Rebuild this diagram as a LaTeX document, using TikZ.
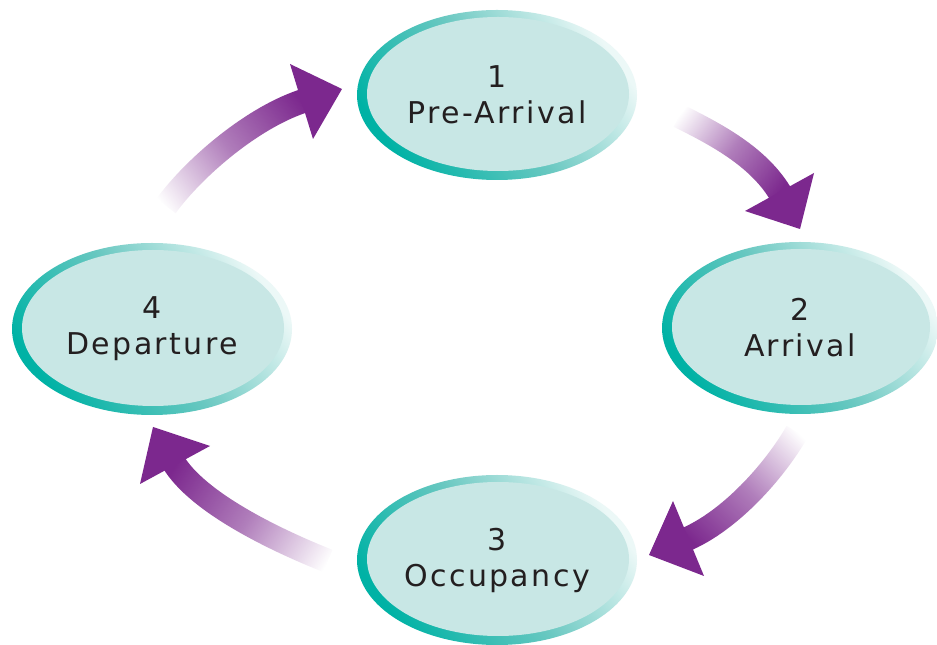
\documentclass[tikz,border=0pt]{standalone}
\usepackage{fontspec}
\setmainfont{DejaVu Sans}
\newfontfamily\stagefamily[LetterSpace=8]{DejaVu Sans}
\usetikzlibrary{shapes.geometric,fadings,calc}
\definecolor{ringdark}{RGB}{0,178,165}
\definecolor{ringmid}{RGB}{105,200,193}
\definecolor{ringlight}{RGB}{236,248,247}
\definecolor{stagefill}{RGB}{200,231,229}
\definecolor{textc}{RGB}{35,31,32}
\definecolor{arrowc}{RGB}{124,40,142}
\tikzfading[name=shaftfade, left color=transparent!100, right color=transparent!0, middle color=transparent!40]
\tikzset{
  stage/.style n args={2}{ellipse, minimum width=#1, minimum height=#2, inner sep=0pt,
    shading=axis, top color=ringlight, bottom color=ringdark, middle color=ringmid, shading angle=-55,
    path picture={\fill[stagefill] ([shift={(1pt,1pt)}]path picture bounding box.center)
       ellipse [x radius={#1/2-9pt}, y radius={#2/2-8pt}];},
    font=\stagefamily\fontsize{30}{36}\selectfont, text=textc, align=center},
  shaft/.style={draw=arrowc, line width=24pt},
  head/.style={fill=arrowc}
}
\begin{document}
\begin{tikzpicture}[x=1pt,y=1pt]
\useasboundingbox (0,0) rectangle (937,645);
\fill[white] (0,0) rectangle (937,645);
% stages
\node[stage={280pt}{170pt}] (pre) at (497,550) {1\\Pre-Arrival};
\node[stage={276pt}{172pt}] (arr) at (800,317) {2\\Arrival};
\node[stage={280pt}{170pt}] (occ) at (497,85) {3\\Occupancy};
\node[stage={280pt}{172pt}] (dep) at (152,316) {4\\Departure};
% arrow 1: pre -> arr
\coordinate (t1) at (679,529);
\coordinate (e1) at (782,448.6);
\coordinate (h1a) at (745,434);
\coordinate (h1b) at (814,472);
\coordinate (p1) at (800,416);
\draw[shaft, path fading=shaftfade, fit fading=false,
  fading transform={shift={(729,491)}, rotate=-37.1, xscale=2.52, yscale=2}]
  (t1) .. controls (715,511) and (760,488) .. (e1);
\fill[head] (h1a) -- (p1) -- (h1b) -- cycle;
% arrow 2: arr -> occ
\coordinate (t2) at (797,213);
\coordinate (e2) at (684,104.6);
\coordinate (h2a) at (673,144);
\coordinate (h2b) at (704,69);
\coordinate (p2) at (649,90);
\draw[shaft, path fading=shaftfade, fit fading=false,
  fading transform={shift={(742.75,159.75)}, rotate=-135.5, xscale=3.04, yscale=2}]
  (t2) .. controls (774.5,174) and (730,123.6) .. (e2);
\fill[head] (h2a) -- (p2) -- (h2b) -- cycle;
% arrow 3: occ -> dep
\coordinate (t3) at (328,84);
\coordinate (e3) at (172.5,184.3);
\coordinate (h3a) at (210,199);
\coordinate (h3b) at (140,161);
\coordinate (p3) at (153,218);
\draw[shaft, path fading=shaftfade, fit fading=false,
  fading transform={shift={(251.5,132)}, rotate=147.9, xscale=3.61, yscale=2}]
  (t3) .. controls (281.5,102.5) and (197.5,141) .. (e3);
\fill[head] (h3a) -- (p3) -- (h3b) -- cycle;
% arrow 4: dep -> pre
\coordinate (t4) at (166,439);
\coordinate (e4) at (306.3,545);
\coordinate (h4a) at (290,581);
\coordinate (h4b) at (313,506);
\coordinate (p4) at (342,556);
\draw[shaft, path fading=shaftfade, fit fading=false,
  fading transform={shift={(233,491)}, rotate=37.7, xscale=3.45, yscale=2}]
  (t4) .. controls (194.5,478) and (254,529) .. (e4);
\fill[head] (h4a) -- (p4) -- (h4b) -- cycle;
\end{tikzpicture}
\end{document}
